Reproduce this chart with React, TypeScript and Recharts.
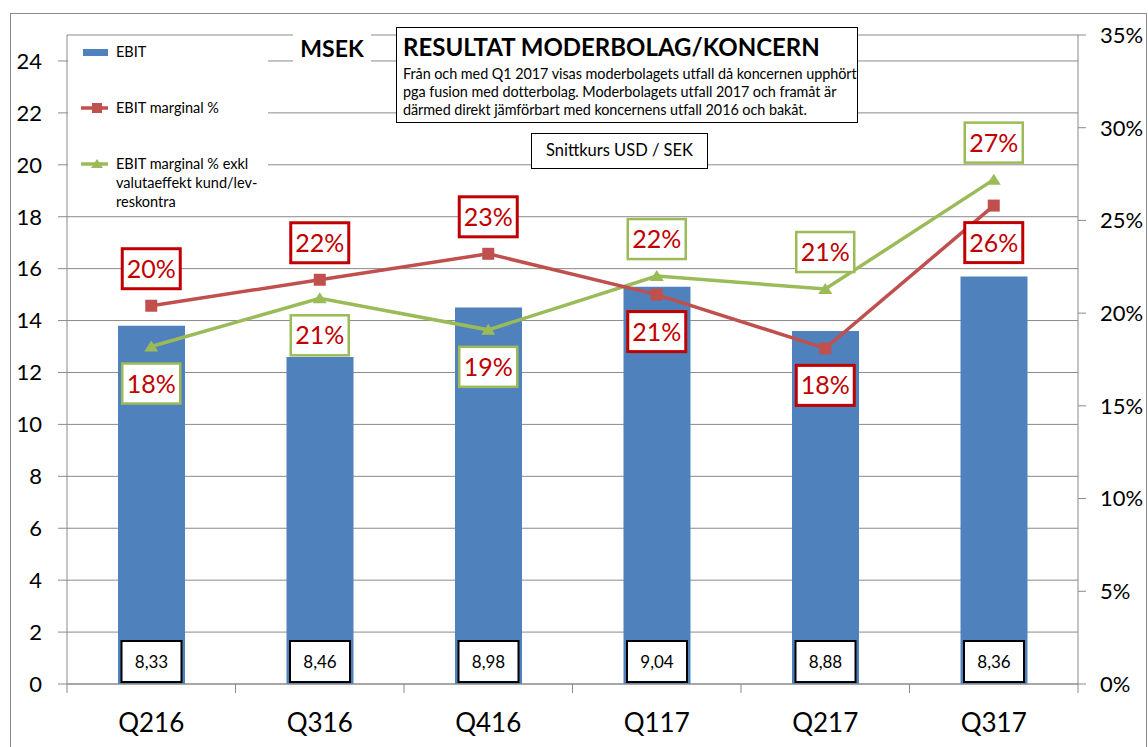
import React from 'react';
import { ComposedChart, Bar, Line, XAxis, YAxis, CartesianGrid, LabelList } from 'recharts';

const quarters = ['Q216', 'Q316', 'Q416', 'Q117', 'Q217', 'Q317'];
const ebit = [13.8, 12.6, 14.5, 15.3, 13.6, 15.7];
const ebitMargin = [0.204, 0.218, 0.232, 0.21, 0.181, 0.258];
const ebitMarginExkl = [0.182, 0.208, 0.191, 0.22, 0.213, 0.272];
const usdSek = ['8,33', '8,46', '8,98', '9,04', '8,88', '8,36'];
const leftTicks = [0, 2, 4, 6, 8, 10, 12, 14, 16, 18, 20, 22, 24];
const rightTicks = [0, 0.05, 0.1, 0.15, 0.2, 0.25, 0.3, 0.35];

// which side of the point each percentage label sits on
const marginSide = ['top', 'top', 'top', 'bottom', 'bottom', 'bottom'];
const exklSide = ['bottom', 'bottom', 'bottom', 'top', 'top', 'top'];

const data = quarters.map((q, i) => ({
  q,
  ebit: ebit[i],
  margin: ebitMargin[i],
  exkl: ebitMarginExkl[i],
  rate: usdSek[i],
}));

const FONT = 'Lato, Calibri, sans-serif';
const GRID = '#8a8a8a';
const BLUE = '#4F81BD';
const RED = '#C0504D';
const GREEN = '#9BBB59';
const LABEL_RED = '#C00000';

const CHART_W = 1148;
const CHART_H = 747;
const LEFT_W = 67;
const RIGHT_W = 70;
const PLOT_W = CHART_W - LEFT_W - RIGHT_W;

const XTick = (props: any) => {
  const { x, y, payload, index } = props;
  const band = PLOT_W / quarters.length;
  return (
    <g>
      <line x1={x - band / 2} x2={x - band / 2} y1={y} y2={y + 9} stroke={GRID} />
      {index === quarters.length - 1 && (
        <line x1={x + band / 2} x2={x + band / 2} y1={y} y2={y + 9} stroke={GRID} />
      )}
      <text x={x} y={y + 48} textAnchor="middle" fontSize={26} fontFamily={FONT} fill="#000">
        {payload.value}
      </text>
    </g>
  );
};

const pctLabel = (sides: string[], border: string, bw: number) => (props: any) => {
  const { x, y, value, index } = props;
  const cy = sides[index] === 'top' ? y - 37 : y + 37;
  return (
    <g>
      <rect x={x - 29} y={cy - 20} width={58} height={40} fill="#fff" stroke={border} strokeWidth={bw} />
      <text x={x} y={cy + 9} textAnchor="middle" fontSize={25} fontFamily={FONT} fill={LABEL_RED}>
        {Math.round(value * 100)}%
      </text>
    </g>
  );
};

const RateLabel = (props: any) => {
  const { x, y, width, height, index } = props;
  const cx = x + width / 2;
  const bottom = y + height - 2;
  return (
    <g>
      <rect x={cx - 30} y={bottom - 41} width={60} height={41} fill="#fff" stroke="#000" strokeWidth={2} />
      <text x={cx} y={bottom - 14} textAnchor="middle" fontSize={17} fontFamily={FONT} fill="#000">
        {usdSek[index]}
      </text>
    </g>
  );
};

const SquareDot = (props: any) => {
  const { cx, cy } = props;
  return <rect x={cx - 6} y={cy - 6} width={12} height={12} fill={RED} />;
};

const TriangleDot = (props: any) => {
  const { cx, cy } = props;
  return <polygon points={`${cx},${cy - 6} ${cx - 7},${cy + 5} ${cx + 7},${cy + 5}`} fill={GREEN} />;
};

const legendText: React.CSSProperties = { position: 'absolute', fontSize: 14.5, lineHeight: '19px', color: '#000', whiteSpace: 'nowrap' };

export default function App() {
  return (
    <div style={{ position: 'relative', width: CHART_W, height: CHART_H, overflow: 'hidden', fontFamily: FONT }}>
      <style>{'html { overflow: hidden; } body { margin: 0; }'}</style>
      <div style={{ position: 'absolute', left: 10, top: 13, width: 1137, height: 800, border: '1.5px solid #8c8c8c', boxSizing: 'border-box' }} />
      <div style={{ position: 'absolute', left: 0, top: 0 }}>
        <ComposedChart width={CHART_W} height={CHART_H} data={data} margin={{ top: 35, right: 0, bottom: 0, left: 0 }}>
          <CartesianGrid yAxisId="left" vertical={false} stroke={GRID} strokeWidth={1} />
          <XAxis
            dataKey="q"
            height={63}
            axisLine={{ stroke: GRID }}
            tickLine={false}
            tickSize={0}
            tickMargin={0}
            tick={<XTick />}
            interval={0}
          />
          <YAxis
            yAxisId="left"
            width={LEFT_W}
            domain={[0, 25]}
            ticks={leftTicks}
            interval={0}
            axisLine={{ stroke: GRID }}
            tickLine={{ stroke: GRID }}
            tickSize={9}
            tickMargin={16}
            tick={{ fontSize: 22, fontFamily: FONT, fill: '#000' }}
          />
          <YAxis
            yAxisId="right"
            orientation="right"
            width={RIGHT_W}
            domain={[0, 0.35]}
            ticks={rightTicks}
            interval={0}
            axisLine={{ stroke: GRID }}
            tickLine={{ stroke: GRID }}
            tickSize={8}
            tickMargin={14}
            tickFormatter={(v: number) => `${Math.round(v * 100)}%`}
            tick={{ fontSize: 22, fontFamily: FONT, fill: '#000' }}
          />
          <Bar yAxisId="left" dataKey="ebit" name="EBIT" fill={BLUE} barSize={67} isAnimationActive={false}>
            <LabelList dataKey="rate" content={<RateLabel />} />
          </Bar>
          <Line
            yAxisId="right"
            dataKey="exkl"
            name="EBIT marginal % exkl valutaeffekt kund/lev-reskontra"
            stroke={GREEN}
            strokeWidth={3.5}
            dot={<TriangleDot />}
            activeDot={false}
            isAnimationActive={false}
          >
            <LabelList dataKey="exkl" content={pctLabel(exklSide, GREEN, 2.5)} />
          </Line>
          <Line
            yAxisId="right"
            dataKey="margin"
            name="EBIT marginal %"
            stroke={RED}
            strokeWidth={3.5}
            dot={<SquareDot />}
            activeDot={false}
            isAnimationActive={false}
          >
            <LabelList dataKey="margin" content={pctLabel(marginSide, LABEL_RED, 3)} />
          </Line>
        </ComposedChart>
      </div>

      {/* legend */}
      <div style={{ position: 'absolute', left: 68, top: 36, width: 200, height: 176, background: '#fff' }}>
        <svg width={40} height={176} style={{ position: 'absolute', left: 0, top: 0 }}>
          <rect x={15} y={13} width={30} height={7} fill={BLUE} />
          <line x1={13} x2={45} y1={72} y2={72} stroke={RED} strokeWidth={3.5} />
          <rect x={24} y={67} width={10} height={10} fill={RED} />
          <line x1={13} x2={45} y1={128} y2={128} stroke={GREEN} strokeWidth={3.5} />
          <polygon points="29,123 23,132 35,132" fill={GREEN} />
        </svg>
        <div style={{ ...legendText, left: 48, top: 6 }}>EBIT</div>
        <div style={{ ...legendText, left: 48, top: 62 }}>EBIT marginal %</div>
        <div style={{ ...legendText, left: 48, top: 118 }}>
          EBIT marginal % exkl
          <br />
          valutaeffekt kund/lev-
          <br />
          reskontra
        </div>
      </div>

      {/* unit */}
      <div style={{ position: 'absolute', left: 293, top: 34, width: 78, height: 28, background: '#fff', fontWeight: 700, fontSize: 23, lineHeight: '28px', textAlign: 'center' }}>
        MSEK
      </div>

      {/* title box */}
      <div style={{ position: 'absolute', left: 396, top: 27, width: 462, height: 96, background: '#fff', border: '1.5px solid #000', boxSizing: 'border-box', padding: '4px 0 0 6px' }}>
        <div style={{ fontWeight: 700, fontSize: 24, lineHeight: '30px', whiteSpace: 'nowrap' }}>RESULTAT MODERBOLAG/KONCERN</div>
        <div style={{ fontSize: 14.4, lineHeight: '18px', marginTop: 3, whiteSpace: 'nowrap', letterSpacing: -0.05 }}>
          Från och med Q1 2017 visas moderbolagets utfall då koncernen upphört
          <br />
          pga fusion med dotterbolag. Moderbolagets utfall 2017 och framåt är
          <br />
          därmed direkt jämförbart med koncernens utfall 2016 och bakåt.
        </div>
      </div>

      {/* rate caption */}
      <div style={{ position: 'absolute', left: 531, top: 133, width: 177, height: 36, background: '#fff', border: '1.5px solid #000', boxSizing: 'border-box', fontSize: 16.5, lineHeight: '33px', textAlign: 'center' }}>
        Snittkurs USD / SEK
      </div>
    </div>
  );
}
